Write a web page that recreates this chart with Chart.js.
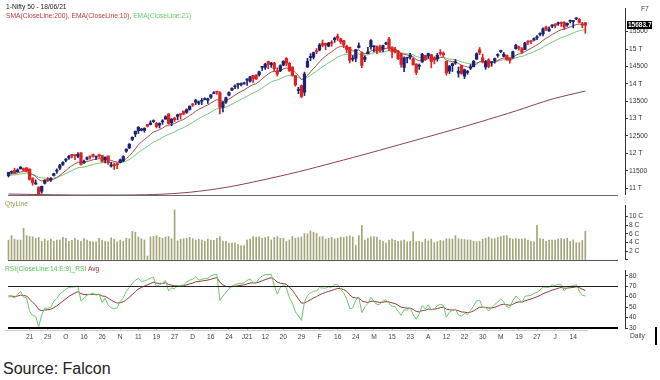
<!DOCTYPE html>
<html><head><meta charset="utf-8">
<script src="https://cdn.jsdelivr.net/npm/chart.js@4"></script>
<style>
html,body{margin:0;padding:0;background:#fff;width:660px;height:380px;overflow:hidden;}
canvas{position:absolute;left:0;}
.t{position:absolute;white-space:nowrap;font-family:"Liberation Sans",Arial,sans-serif;font-size:6.7px;line-height:1;}
</style></head><body>
<canvas id="cp" width="660" height="200" style="top:0"></canvas>
<canvas id="cv" width="660" height="65" style="top:200px"></canvas>
<canvas id="cr" width="660" height="82" style="top:265px"></canvas>
<div class="t" style="left:6px;top:4px;color:#222">1-Nifty 50 - 18/06/21</div>
<div class="t" style="left:6px;top:13px;color:#c03838">SMA(CloseLine:200), EMA(CloseLine:10), <span style="color:#66cc66">EMA(CloseLine:21)</span></div>
<div class="t" style="left:641px;top:6px;color:#444">F7</div>
<div class="t" style="left:5px;top:201px;color:#9a9850">QtyLine</div>
<div class="t" style="left:5px;top:266px;color:#55c055">RSI(CloseLine:14:E:9)_RSI <span style="color:#a03030">Avg</span></div>
<div class="t" style="left:630px;top:333px;color:#444">Daily</div>
<div style="position:absolute;left:655px;top:327px;width:2px;height:18px;background:#000"></div>
<div style="position:absolute;left:3px;top:360px;font:16px 'Liberation Sans',Arial,sans-serif;color:#222">Source: Falcon</div>
<script>
// ---------- DATA ----------
const dates = ['10/9','11/9','14/9','15/9','16/9','17/9','18/9','21/9','22/9','23/9','24/9','25/9','28/9','29/9','30/9',
'1/10','5/10','6/10','7/10','8/10','9/10','12/10','13/10','14/10','15/10','16/10','19/10','20/10','21/10','22/10','23/10','26/10','27/10','28/10','29/10','30/10',
'2/11','3/11','4/11','5/11','6/11','9/11','10/11','11/11','12/11','13/11','14/11','17/11','18/11','19/11','20/11','23/11','24/11','25/11','26/11','27/11',
'1/12','2/12','3/12','4/12','7/12','8/12','9/12','10/12','11/12','14/12','15/12','16/12','17/12','18/12','21/12','22/12','23/12','24/12','28/12','29/12','30/12','31/12',
'1/1','4/1','5/1','6/1','7/1','8/1','11/1','12/1','13/1','14/1','15/1','18/1','19/1','20/1','21/1','22/1','25/1','27/1','28/1','29/1',
'1/2','2/2','3/2','4/2','5/2','8/2','9/2','10/2','11/2','12/2','15/2','16/2','17/2','18/2','19/2','22/2','23/2','24/2','25/2','26/2',
'1/3','2/3','3/3','4/3','5/3','8/3','9/3','10/3','12/3','15/3','16/3','17/3','18/3','19/3','22/3','23/3','24/3','25/3','26/3','30/3','31/3',
'1/4','5/4','6/4','7/4','8/4','9/4','12/4','13/4','15/4','16/4','19/4','20/4','22/4','23/4','26/4','27/4','28/4','29/4','30/4',
'3/5','4/5','5/5','6/5','7/5','10/5','11/5','12/5','14/5','17/5','18/5','19/5','20/5','21/5','24/5','25/5','26/5','27/5','28/5','31/5',
'1/6','2/6','3/6','4/6','7/6','8/6','9/6','10/6','11/6','14/6','15/6','16/6','17/6','18/6'];

const opens = [11360,11452,11510,11466,11555,11559,11584,11545,11270,11120,
11016,10910,11140,11260,11244,11364,11487,11574,11680,11798,
11867,11973,11935,11917,12014,11728,11834,11897,11957,11890,
11949,11937,11807,11922,11633,11678,11697,11734,11784,12062,
12157,12399,12556,12650,12668,12659,12829,12829,12912,12860,
12813,12906,12985,13130,12878,13012,13062,13122,13215,13178,
13264,13394,13471,13442,13497,13547,13527,13610,13713,13764,
13742,13323,13473,13673,13815,13911,13980,13971,13997,14104,
14075,14241,14254,14258,14474,14474,14639,14550,14594,14371,
14371,14538,14731,14590,14477,14237,13810,13947,13759,14481,
14755,14764,14952,14973,15165,15165,15082,15198,15271,15371,
15292,15243,15075,15045,14708,14729,15042,14888,14702,14865,
15065,15065,15064,15064,14999,15146,15286,15051,14996,14946,
14871,14469,14736,14768,14712,14570,14506,14628,14811,14798,
14837,14737,14716,14875,14882,14644,14364,14522,14599,14306,
14526,14219,14326,14449,14493,14710,14979,14747,14481,14688,
14605,14669,14816,14928,14789,14824,14749,14756,15009,15058,
15004,14987,15211,15233,15258,15324,15422,15437,15629,15521,
15655,15712,15725,15773,15766,15692,15797,15791,15867,15847,
15692,15757];
const highs = [11457,11493,11572,11554,11618,11578,11585,11555,11302,11236,
11041,11060,11240,11303,11303,11428,11554,11680,11762,11849,
11939,11974,11949,12018,12025,11807,11898,11924,11975,11924,
11975,11942,11899,11929,11744,11710,11726,11836,11929,12131,
12280,12474,12643,12770,12721,12735,12829,12935,12963,12892,
12879,12968,13079,13145,12996,13036,13128,13128,13216,13280,
13367,13435,13549,13504,13579,13597,13587,13692,13774,13771,
13778,13492,13619,13771,13886,13967,13998,14025,14050,14148,
14215,14245,14256,14368,14498,14590,14653,14617,14618,14459,
14546,14666,14754,14619,14492,14237,13899,13967,14337,14732,
14868,14913,15015,15159,15257,15168,15192,15243,15340,15432,
15314,15250,15111,15057,14812,14989,15177,14920,14806,15052,
15273,15092,15093,15111,15117,15203,15336,15063,15052,14956,
14875,14779,14763,14878,14752,14575,14572,14877,14814,14883,
14849,14779,14879,14984,14918,14653,14528,14597,14697,14483,
14529,14424,14384,14557,14667,14890,15044,14856,14673,14723,
14637,14743,14863,14967,14901,14825,14749,14938,15137,15082,
15045,15189,15241,15241,15319,15384,15469,15607,15661,15641,
15705,15733,15773,15778,15789,15752,15835,15824,15901,15880,
15769,15763];
const lows = [11320,11419,11425,11464,11546,11489,11466,11231,11083,11104,
10794,10854,11116,11189,11190,11347,11425,11528,11653,11756,
11822,11867,11821,11872,11661,11710,11808,11833,11888,11822,
11880,11748,11723,11684,11606,11535,11557,11723,11757,12027,
12131,12367,12475,12572,12644,12607,12756,12815,12889,12730,
12730,12834,12978,12833,12791,12914,12962,12983,13107,13152,
13241,13347,13403,13400,13402,13538,13434,13582,13713,13694,
13131,13192,13433,13652,13811,13860,13864,13936,13992,13954,
14048,14040,14123,14221,14383,14413,14435,14471,14357,14222,
14350,14517,14517,14357,14218,13929,13714,13597,13662,14469,
14664,14715,14864,14947,15065,14977,15064,15081,15194,15243,
15148,15037,14894,14598,14652,14636,15030,14467,14634,14865,
14995,14919,14863,14920,14918,15128,14954,14745,14890,14696,
14478,14350,14597,14707,14535,14265,14414,14617,14670,14735,
14459,14573,14650,14822,14785,14248,14293,14353,14559,14191,
14272,14152,14274,14408,14484,14696,14838,14601,14416,14461,
14506,14592,14765,14892,14771,14674,14591,14727,14995,14970,
14885,14984,15127,15156,15236,15272,15375,15374,15528,15505,
15611,15606,15679,15650,15567,15651,15749,15607,15842,15749,
15616,15451];
const closes = [11449,11464,11440,11521,11604,11516,11505,11251,11153,11132,
10806,11050,11228,11222,11248,11417,11503,11662,11738,11834,
11914,11930,11934,11971,11680,11762,11873,11896,11937,11896,
11930,11767,11889,11730,11670,11642,11669,11813,11908,12120,
12263,12461,12631,12749,12691,12720,12780,12874,12938,12771,
12859,12926,13055,12858,12987,12969,13109,13113,13134,13259,
13356,13393,13529,13478,13514,13558,13568,13682,13741,13761,
13328,13466,13601,13749,13873,13932,13982,13982,14019,14133,
14199,14146,14137,14347,14485,14564,14564,14596,14434,14281,
14521,14645,14590,14372,14239,13968,13818,13635,14281,14648,
14790,14896,14924,15116,15109,15107,15173,15163,15315,15313,
15209,15119,14982,14676,14708,14982,15097,14529,14761,14919,
15245,15081,14938,14956,15099,15175,15031,14929,14910,14721,
14558,14744,14736,14815,14549,14324,14507,14845,14691,14867,
14638,14684,14819,14873,14835,14311,14505,14581,14618,14359,
14297,14406,14341,14485,14653,14865,14895,14631,14634,14497,
14618,14724,14823,14942,14851,14697,14677,14923,15109,15030,
14906,15175,15197,15208,15301,15338,15436,15583,15575,15576,
15690,15670,15751,15740,15635,15738,15799,15812,15869,15768,
15691,15683.7];
// closes before the first visible candle (Aug-Sep 2020), used only to warm up the indicators
const warmupCloses = [10892,10942,11102,11200,11214,11270,11322,11308,11300,11178,11247,11385,11408,11312,
11372,11466,11472,11550,11559,11648,11388,11470,11535,11528,11334,11355,11317,11278];
// traded quantity, crore shares
const volumes = [4.6,5.6,4.8,4.6,4.6,7.3,5.6,5.4,5.3,5.0,
5.2,4.3,4.8,4.4,4.8,4.3,4.6,4.6,5.2,5.0,
4.3,4.5,5.0,4.6,4.3,4.9,4.6,4.3,4.2,4.2,
5.0,4.6,4.3,4.2,5.1,4.8,4.2,4.6,4.3,5.0,
4.9,6.6,6.4,5.3,4.9,4.6,0.9,5.3,5.4,5.6,
5.2,5.0,5.3,5.4,4.9,11.5,4.4,4.8,4.9,5.0,
5.2,4.9,4.6,4.8,4.6,4.3,4.8,4.6,4.5,5.0,
5.4,4.3,4.3,3.9,3.9,3.9,3.6,3.3,3.3,4.6,
4.8,5.4,5.2,5.3,5.0,5.2,5.4,4.6,5.2,5.4,
5.0,5.0,4.3,4.6,5.4,5.0,5.2,5.3,6.1,6.0,
6.7,6.4,6.1,5.3,5.4,4.8,5.0,5.2,4.8,5.0,
5.3,5.2,5.4,5.6,5.3,3.4,5.6,8.0,4.6,5.0,
5.3,5.4,5.2,4.6,4.3,3.9,4.6,4.8,4.5,4.3,
4.4,4.6,4.2,4.3,6.5,4.2,4.3,4.1,4.8,4.4,
4.8,4.0,4.2,4.5,4.4,4.9,4.9,4.8,5.6,4.9,
4.8,4.7,4.6,4.6,4.3,4.2,4.3,4.8,5.0,5.3,
4.9,4.9,5.2,5.4,5.6,5.6,5.0,4.8,4.9,4.8,
4.8,4.9,4.6,4.3,4.2,8.0,4.9,4.8,4.3,4.6,
4.6,4.6,4.8,4.9,4.8,5.0,4.3,4.6,4.0,4.0,
4.5,6.6];
const smaIdx  = [0,12,24,36,48,60,72,84,96,108,120,132,144,156,168,180,191];
const smaVals = [10830,10812,10800,10800,10815,10880,11020,11230,11470,11740,12020,12310,12600,12900,13220,13560,13790];

const xTickIdx    = [7,13,19,25,31,37,43,49,55,61,67,73,79,85,91,97,103,109,115,121,127,133,139,145,151,157,163,169,175,181,187];
const xTickLabels = ['21','29','O','16','26','N','11','19','27','D','16','24','J21','12','20','29','F','16','24','M','15','23','A','12','22','30','M','19','27','J','14'];
const priceTicks  = [11000,11500,12000,12500,13000,13500,14000,14500,15000,15500];
const priceTickLabels = ['11 T','11500','12 T','12500','13 T','13500','14 T','14500','15 T','15500'];
const volTicks  = [0,2,4,6,8,10];
const volTickLabels = ['','2 C','4 C','6 C','8 C','10 C'];
const rsiTicks  = [30,40,50,60,70,80];
const rsiTickLabels = ['30','40','50','60','70','80'];

// ---------- indicators (definitions from the chart legend) ----------
function ema(src, n){ const k=2/(n+1); let e=src[0]; return src.map(v=>{ e=v*k+e*(1-k); return e; }); }
function rsiW(src, n){
  const out=[]; let g=0,l=0;
  for(let i=1;i<=n;i++){ const d=src[i]-src[i-1]; if(d>0) g+=d; else l-=d; }
  g/=n; l/=n;
  for(let i=0;i<src.length;i++){
    if(i<n){ out.push(null); continue; }
    if(i>n){ const d=src[i]-src[i-1]; g=(g*(n-1)+Math.max(d,0))/n; l=(l*(n-1)+Math.max(-d,0))/n; }
    out.push(100-100/(1+g/l));
  }
  return out;
}
const allCloses = warmupCloses.concat(closes);
const W = warmupCloses.length, N = closes.length;
const ema10 = ema(allCloses,10).slice(W);
const ema21 = ema(allCloses,21).slice(W);
const rsiAll = rsiW(allCloses,14);
const rsiValid = rsiAll.slice(14);
const rsiAvgValid = ema(rsiValid,9);
const rsi = rsiValid.slice(W-14);
const rsiAvg = rsiAvgValid.slice(W-14);

// ---------- layout ----------
const UP='#1e2272', DOWN='#dd2222';
const X0=8.5, DX=3.02, AREA_L=5, AREA_R=625, LINE_L=8, LINE_R=618, AXIS_W=35;
const xMin=(AREA_L-X0)/DX, xMax=xMin+(AREA_R-AREA_L)/DX;
const FONT={family:'Liberation Sans', size:6.7};
Chart.defaults.font.family='Liberation Sans';
Chart.defaults.font.size=6.7;

const hiddenX = {type:'linear',min:xMin,max:xMax,offset:false,display:false};
function yAxis(min,max,ticks,labels){
  return {position:'right',min,max,offset:false,
    afterFit(s){ s.width=AXIS_W; },
    afterBuildTicks(s){ s.ticks=ticks.map(v=>({value:v})); },
    ticks:{autoSkip:false,font:FONT,color:'#333',padding:1,callback:(v,i)=>labels[i]},
    grid:{drawOnChartArea:false,drawTicks:true,tickLength:3,color:'#333'},
    border:{display:true,color:'#333',width:1}};
}
function hline(ctx,y,x1,x2,color,w){ ctx.save(); ctx.strokeStyle=color; ctx.lineWidth=w; ctx.beginPath(); ctx.moveTo(x1,y); ctx.lineTo(x2,y); ctx.stroke(); ctx.restore(); }
const candleColor = c => { const i=c.dataIndex; return (i!==undefined && closes[i]<opens[i]) ? DOWN : UP; };
const baseOpts = {responsive:false,animation:false,devicePixelRatio:1,events:[],
  plugins:{legend:{display:false},tooltip:{enabled:false}}};

// ---------- price panel ----------
new Chart(document.getElementById('cp'), {
  type:'bar',
  data:{datasets:[
    {type:'bar',order:1,grouped:false,barThickness:2.6,minBarLength:1,borderWidth:0,
     data:closes.map((c,i)=>({x:i,y:[opens[i],c]})),backgroundColor:candleColor},
    {type:'bar',order:1,grouped:false,barThickness:1,borderWidth:0,
     data:closes.map((c,i)=>({x:i,y:[lows[i],highs[i]]})),backgroundColor:candleColor},
    {type:'line',order:2,data:smaIdx.map((x,k)=>({x,y:smaVals[k]})),borderColor:'#8a4258',borderWidth:1,pointRadius:0,tension:0.3},
    {type:'line',order:2,data:ema10.map((y,x)=>({x,y})),borderColor:'#a0504c',borderWidth:1,pointRadius:0},
    {type:'line',order:2,data:ema21.map((y,x)=>({x,y})),borderColor:'#74c874',borderWidth:1,pointRadius:0}
  ]},
  options:Object.assign({},baseOpts,{
    layout:{padding:{left:AREA_L,right:0,top:8,bottom:2}},
    scales:{x:hiddenX, y:yAxis(10802,16180,priceTicks,priceTickLabels)}
  }),
  plugins:[{id:'pframe',afterDraw(ch){
    const ctx=ch.ctx, a=ch.chartArea;
    hline(ctx,a.bottom+0.5,LINE_L,LINE_R,'#666',1);
    const y=ch.scales.y.getPixelForValue(closes[N-1]);
    ctx.save(); ctx.fillStyle='#000'; ctx.fillRect(a.right+2,Math.round(y)-4,25,8);
    ctx.fillStyle='#fff'; ctx.font='bold 6.5px "Liberation Sans"'; ctx.textBaseline='middle';
    ctx.fillText(closes[N-1].toFixed(1),a.right+3,Math.round(y)); ctx.restore();
  }}]
});

// ---------- volume panel ----------
new Chart(document.getElementById('cv'), {
  type:'bar',
  data:{datasets:[{data:volumes.map((v,i)=>({x:i,y:v})),barThickness:1,borderWidth:0,backgroundColor:'#a6a47a'}]},
  options:Object.assign({},baseOpts,{
    layout:{padding:{left:AREA_L,right:0,top:1,bottom:2}},
    scales:{x:hiddenX, y:yAxis(0,12.65,volTicks,volTickLabels)}
  }),
  plugins:[{id:'vframe',afterDraw(ch){ hline(ch.ctx,ch.chartArea.bottom+0.5,LINE_L,LINE_R,'#555',1); }}]
});

// ---------- RSI panel ----------
new Chart(document.getElementById('cr'), {
  type:'line',
  data:{datasets:[
    {data:rsi.map((y,x)=>({x,y})),borderColor:'#6cc86c',borderWidth:1,pointRadius:0},
    {data:rsiAvg.map((y,x)=>({x,y})),borderColor:'#8e3a3a',borderWidth:1,pointRadius:0}
  ]},
  options:Object.assign({},baseOpts,{
    layout:{padding:{left:AREA_L,right:0,top:2,bottom:0}},
    scales:{
      x:{type:'linear',min:xMin,max:xMax,offset:false,
        afterFit(s){ s.height=19; },
        afterBuildTicks(s){ s.ticks=xTickIdx.map(v=>({value:v})); },
        ticks:{autoSkip:false,maxRotation:0,font:FONT,color:'#444',padding:2,callback:(v,i)=>xTickLabels[i]},
        grid:{drawOnChartArea:false,drawTicks:true,tickLength:3,color:'#e0b4b4'},
        border:{display:false}},
      y:yAxis(30,85.45,rsiTicks,rsiTickLabels)
    }
  }),
  plugins:[{id:'rframe',afterDraw(ch){
    const ctx=ch.ctx, a=ch.chartArea;
    hline(ctx,Math.round(ch.scales.y.getPixelForValue(70))+0.5,LINE_L,LINE_R,'#222',1);
    hline(ctx,a.bottom,LINE_L,LINE_R,'#000',2);
    hline(ctx,a.bottom+2.5,AREA_L,588,'#e8c4c4',1);
  }}]
});
</script>
</body></html>
